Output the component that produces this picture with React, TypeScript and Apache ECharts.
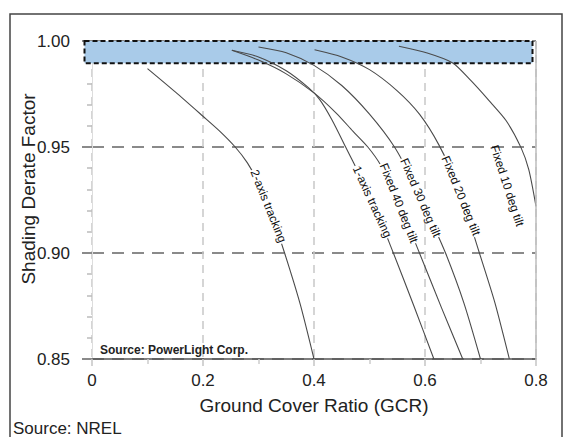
import React, { useEffect, useRef } from "react";
import * as echarts from "echarts";

// Tick values
const xTickValues = [0, 0.2, 0.4, 0.6, 0.8];
const yTickValues = [0.85, 0.9, 0.95, 1.0];

// Curves: [GCR, shading derate factor]
const twoAxisTracking = [
  [0.1, 0.987], [0.15, 0.976], [0.2, 0.9645], [0.23, 0.9575], [0.258, 0.95],
  [0.28, 0.9425], [0.3, 0.933], [0.32, 0.921], [0.347, 0.9], [0.375, 0.876], [0.4, 0.85],
];
const oneAxisTracking = [
  [0.252, 0.9956], [0.3, 0.9925], [0.35, 0.986], [0.39, 0.978], [0.41, 0.9725],
  [0.432, 0.963], [0.457, 0.95], [0.505, 0.9245], [0.543, 0.9], [0.58, 0.875], [0.616, 0.85],
];
const fixed40 = [
  [0.252, 0.9956], [0.3, 0.991], [0.35, 0.9845], [0.4, 0.9755], [0.44, 0.966],
  [0.47, 0.9575], [0.497, 0.95], [0.52, 0.9415], [0.55, 0.9255], [0.59, 0.9],
  [0.63, 0.874], [0.668, 0.85],
];
const fixed30 = [
  [0.3, 0.9972], [0.35, 0.9945], [0.4, 0.9885], [0.45, 0.979], [0.5, 0.9655],
  [0.545, 0.95], [0.58, 0.933], [0.61, 0.916], [0.637, 0.9], [0.67, 0.8765], [0.7, 0.85],
];
const fixed20 = [
  [0.401, 0.9959], [0.45, 0.9925], [0.5, 0.9865], [0.55, 0.9765], [0.59, 0.9655],
  [0.625, 0.951], [0.66, 0.931], [0.698, 0.9], [0.726, 0.8765], [0.752, 0.85],
];
const fixed10 = [
  [0.553, 0.9975], [0.604, 0.9943], [0.65, 0.9896], [0.682, 0.9815],
  [0.715, 0.972], [0.746, 0.9625], [0.773, 0.9497], [0.787, 0.9393], [0.8, 0.922],
];

const curveNames = [
  "2-axis tracking",
  "1-axis tracking",
  "Fixed 40 deg tilt",
  "Fixed 30 deg tilt",
  "Fixed 20 deg tilt",
  "Fixed 10 deg tilt",
];
const curveData = [twoAxisTracking, oneAxisTracking, fixed40, fixed30, fixed20, fixed10];

// Inline label anchors (data coords) and slope angle (deg, downward)
const labelAnchorX = [0.318, 0.505, 0.553, 0.592, 0.665, 0.748];
const labelAnchorY = [0.9221, 0.9242, 0.9235, 0.9261, 0.927, 0.9317];
const labelAngle = [68, 65.4, 68.3, 66.5, 67.8, 71.8];

// Highlighted band near 1.00
const bandX = [-0.0135, 0.7937];
const bandY = [0.9895, 1.0];

const FONT = "'Liberation Sans', Arial, sans-serif";

export default function App() {
  const ref = useRef<HTMLDivElement>(null);

  useEffect(() => {
    if (!ref.current) return;
    const chart = echarts.init(ref.current, null, { renderer: "svg" });

    const series: any[] = curveData.map((d, i) => ({
      name: curveNames[i],
      type: "line",
      data: d,
      showSymbol: false,
      smooth: 0.25,
      clip: true,
      z: 3,
      lineStyle: { color: "#4a4a4a", width: 1.1 },
    }));
    series[0].markLine = {
      silent: true,
      symbol: "none",
      label: { show: false },
      lineStyle: { color: "#bdbdbd", width: 1.5, type: "solid" },
      data: [{ xAxis: xTickValues[xTickValues.length - 1] }],
    };

    chart.setOption({
      animation: false,
      backgroundColor: "#ffffff",
      textStyle: { fontFamily: FONT },
      grid: { left: 92, right: 28, top: 41, bottom: 78, containLabel: false },
      xAxis: {
        type: "value",
        min: xTickValues[0],
        max: xTickValues[xTickValues.length - 1],
        interval: 0.2,
        name: "Ground Cover Ratio (GCR)",
        nameLocation: "middle",
        nameGap: 37,
        nameTextStyle: { fontSize: 19, color: "#222", fontFamily: FONT },
        axisLine: { show: true, onZero: false, lineStyle: { color: "#555", width: 1.5 } },
        axisTick: { show: true, length: 7, lineStyle: { color: "#c4c4c4", width: 1.5 } },
        minorTick: { show: true, splitNumber: 2, length: 5, lineStyle: { color: "#cccccc", width: 1.5 } },
        axisLabel: {
          fontSize: 17,
          color: "#222",
          margin: 13,
          fontFamily: FONT,
          formatter: (v: number) => (v === 0 ? "0" : v.toFixed(1)),
        },
        splitLine: {
          show: true,
          lineStyle: { color: "#c8c8c8", width: 1.5, type: [8, 6] },
        },
      },
      yAxis: {
        type: "value",
        min: yTickValues[0],
        max: yTickValues[yTickValues.length - 1],
        interval: 0.05,
        axisLine: { show: true, lineStyle: { color: "#dddddd", width: 1 } },
        axisTick: { show: true, length: 10, lineStyle: { color: "#8a8a8a", width: 2 } },
        minorTick: { show: true, splitNumber: 5, length: 5, lineStyle: { color: "#bbbbbb", width: 1.5 } },
        axisLabel: {
          fontSize: 17,
          color: "#222",
          margin: 22,
          fontFamily: FONT,
          formatter: (v: number) => v.toFixed(2),
        },
        splitLine: {
          show: true,
          lineStyle: { color: "#8a8a8a", width: 2, type: [12, 8] },
        },
      },
      series,
    });

    const p = (x: number, y: number) =>
      chart.convertToPixel({ xAxisIndex: 0, yAxisIndex: 0 }, [x, y]) as number[];

    const b0 = p(bandX[0], bandY[1]);
    const b1 = p(bandX[1], bandY[0]);

    const labels = curveNames.map((name, i) => {
      const c = p(labelAnchorX[i], labelAnchorY[i]);
      return {
        type: "text",
        x: c[0],
        y: c[1],
        rotation: (-labelAngle[i] * Math.PI) / 180,
        z: 100,
        style: {
          text: name,
          fontSize: 12,
          fontFamily: FONT,
          fill: "#111",
          align: "center",
          verticalAlign: "middle",
          backgroundColor: i === 5 ? "transparent" : "#ffffff",
          padding: [0, 1],
        },
      };
    });

    const yMid = p(0, (yTickValues[0] + yTickValues[yTickValues.length - 1]) / 2);

    chart.setOption({
      graphic: [
        {
          type: "rect",
          z: 1,
          shape: { x: b0[0], y: b0[1], width: b1[0] - b0[0], height: b1[1] - b0[1] },
          style: { fill: "#a9cbe9", stroke: "#111", lineWidth: 2, lineDash: [5, 3] },
        },
        {
          type: "rect",
          z: 0,
          silent: true,
          shape: { x: 10, y: 14, width: 552, height: 440 },
          style: { fill: "none", stroke: "#444", lineWidth: 1.5 },
        },
        {
          type: "text",
          x: 28,
          y: yMid[1] - 11,
          rotation: Math.PI / 2,
          z: 100,
          style: {
            text: "Shading Derate Factor",
            fontSize: 19,
            fontFamily: FONT,
            fill: "#222",
            align: "center",
            verticalAlign: "middle",
          },
        },
        {
          type: "text",
          x: 100,
          y: 350,
          z: 100,
          style: {
            text: "Source: PowerLight Corp.",
            fontSize: 12,
            fontWeight: "bold",
            fontFamily: FONT,
            fill: "#222",
            align: "left",
            verticalAlign: "middle",
          },
        },
        {
          type: "text",
          x: 13,
          y: 428,
          z: 100,
          style: {
            text: "Source: NREL",
            fontSize: 17,
            fontFamily: FONT,
            fill: "#222",
            align: "left",
            verticalAlign: "middle",
          },
        },
        ...labels,
      ],
    });

    return () => chart.dispose();
  }, []);

  return (
    <div
      ref={ref}
      style={{ position: "fixed", left: 0, top: 0, width: 564, height: 437 }}
    />
  );
}
